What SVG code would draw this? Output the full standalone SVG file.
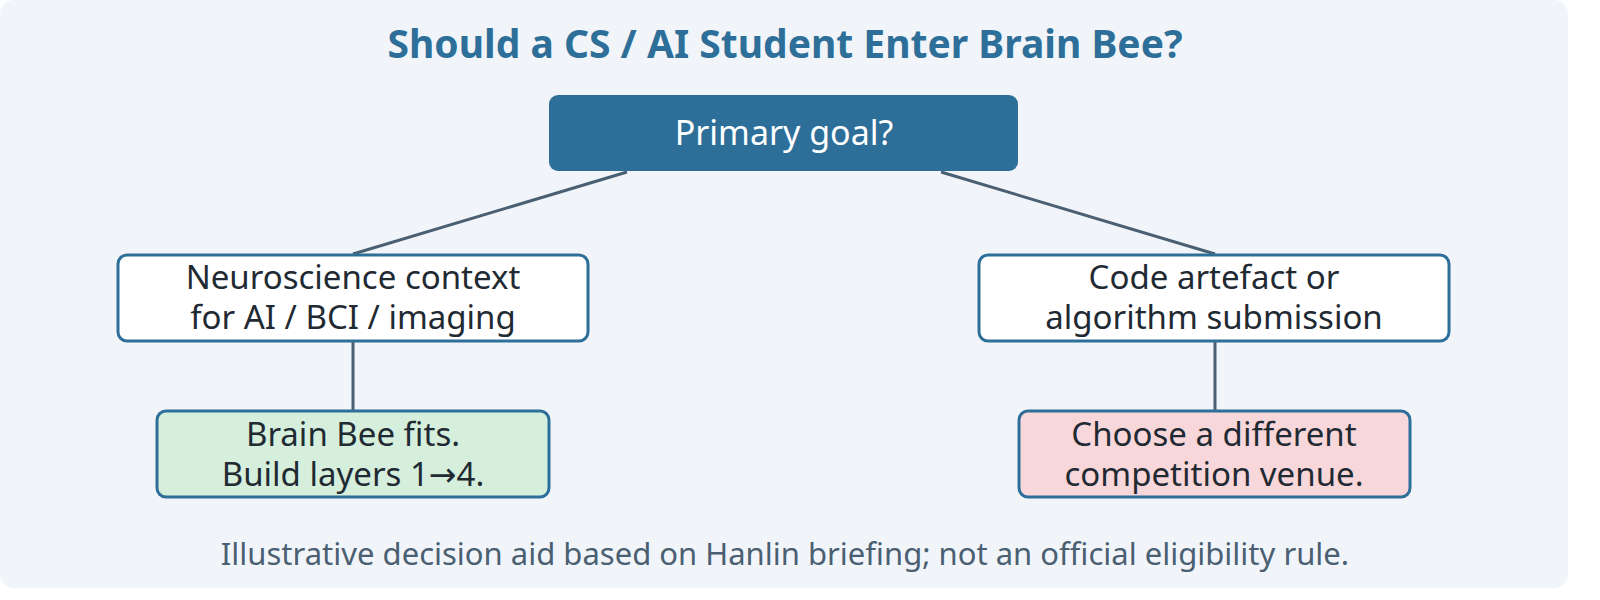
<svg xmlns="http://www.w3.org/2000/svg" width="1600" height="600" viewBox="0 0 1600 600">
<style>
text{font-family:"Noto Sans","Open Sans",sans-serif;text-anchor:middle}
.n{stroke:#2e6f9a;stroke-width:3}
.t{font-size:33px;fill:#1f2a33}
.c{stroke:#4a6072;stroke-width:3;fill:none}
</style>
<rect x="0" y="0" width="1568" height="588" rx="14" fill="#f1f5f9"/>
<text x="785" y="58" font-size="39" font-weight="bold" fill="#2e6f9a">Should a CS / AI Student Enter Brain Bee?</text>
<g id="connectors">
<line class="c" x1="627" y1="172" x2="353" y2="254"/>
<line class="c" x1="941" y1="172" x2="1215" y2="254"/>
<line class="c" x1="353" y1="341" x2="353" y2="411"/>
<line class="c" x1="1215" y1="341" x2="1215" y2="411"/>
</g>
<g id="goal"><rect x="549" y="95" width="469" height="76" rx="9" fill="#2e6f9a"/><text x="784" y="145" font-size="34" fill="#fff">Primary goal?</text></g>
<g id="neuro"><rect class="n" x="118" y="255" width="470" height="86" rx="9" fill="#fff"/><text class="t" x="353" y="289">Neuroscience context</text><text class="t" x="353" y="329">for AI / BCI / imaging</text></g>
<g id="code"><rect class="n" x="979" y="255" width="470" height="86" rx="9" fill="#fff"/><text class="t" x="1214" y="289">Code artefact or</text><text class="t" x="1214" y="329">algorithm submission</text></g>
<g id="fits"><rect class="n" x="157" y="411" width="392" height="86" rx="9" fill="#d6eedc"/><text class="t" x="353" y="446">Brain Bee fits.</text><text class="t" x="353" y="486">Build layers 1<tspan font-family="DejaVu Sans">→</tspan>4.</text></g>
<g id="diff"><rect class="n" x="1019" y="411" width="391" height="86" rx="9" fill="#f8d7da"/><text class="t" x="1214" y="446">Choose a different</text><text class="t" x="1214" y="486">competition venue.</text></g>
<text x="785" y="565" font-size="31" fill="#4a6072">Illustrative decision aid based on Hanlin briefing; not an official eligibility rule.</text>
</svg>
